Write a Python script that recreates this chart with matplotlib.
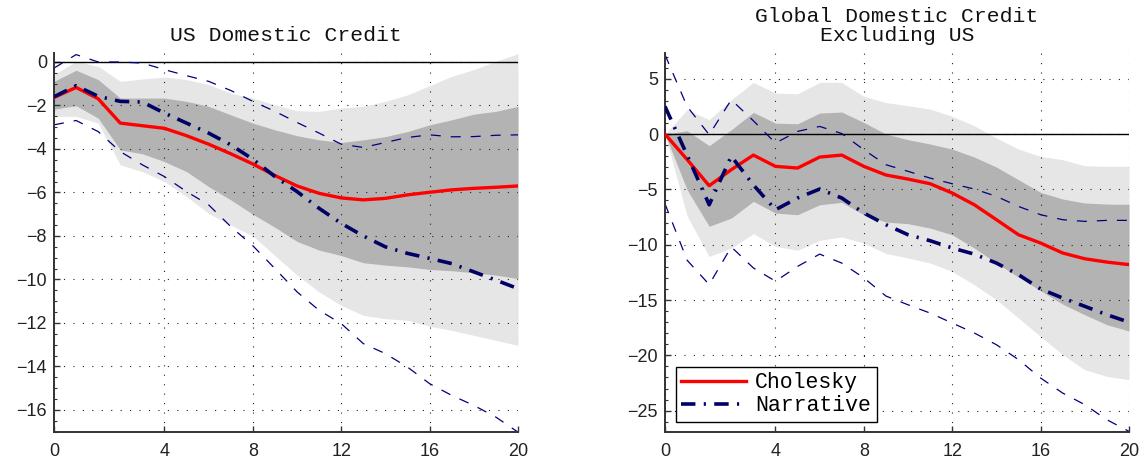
import numpy as np
import matplotlib
matplotlib.use("Agg")
import matplotlib.pyplot as plt
from matplotlib.ticker import FixedLocator, MultipleLocator

# ---------------- data ----------------
horizon = np.arange(22)
xtick_pos = [0, 5, 9, 13, 17, 21]
xtick_labels = ["0", "4", "8", "12", "16", "20"]

# US Domestic Credit
us_cholesky = [-1.63, -1.17, -1.69, -2.81, -2.93, -3.05, -3.39, -3.78, -4.22, -4.69, -5.22,
               -5.70, -6.04, -6.25, -6.34, -6.27, -6.11, -5.99, -5.88, -5.81, -5.76, -5.70]
us_narrative = [-1.60, -1.09, -1.58, -1.81, -1.84, -2.35, -2.81, -3.27, -3.81, -4.47, -5.27,
                -5.96, -6.73, -7.42, -8.00, -8.50, -8.80, -9.03, -9.27, -9.65, -10.03, -10.42]
us_narr_upper = [-0.28, 0.34, 0.00, 0.00, -0.05, -0.35, -0.63, -0.89, -1.31, -1.81, -2.27,
                 -2.78, -3.27, -3.78, -3.93, -3.70, -3.47, -3.35, -3.44, -3.43, -3.37, -3.35]
us_narr_lower = [-2.89, -2.69, -3.20, -4.12, -4.73, -5.27, -5.96, -6.57, -7.57, -8.45, -9.50,
                 -10.57, -11.42, -12.03, -12.95, -13.41, -14.03, -14.79, -15.33, -15.79, -16.33, -17.02]
us_dark_upper = [-0.89, -0.38, -0.81, -1.66, -1.66, -1.66, -1.81, -2.04, -2.43, -2.81, -3.12,
                 -3.39, -3.58, -3.70, -3.58, -3.43, -3.20, -2.89, -2.66, -2.40, -2.27, -2.04]
us_dark_lower = [-2.17, -2.01, -2.58, -4.04, -4.22, -4.58, -5.04, -5.73, -6.34, -7.00, -7.60,
                 -8.25, -8.65, -8.90, -9.23, -9.34, -9.42, -9.54, -9.60, -9.69, -9.80, -9.96]
us_light_upper = [-0.58, 0.03, -0.20, -0.89, -0.78, -0.69, -0.81, -1.04, -1.43, -1.66, -1.97,
                  -2.24, -2.27, -2.12, -2.04, -1.81, -1.51, -1.09, -0.66, -0.35, 0.03, 0.38]
us_light_lower = [-2.50, -2.50, -2.81, -4.73, -5.04, -5.50, -6.19, -6.96, -7.50, -8.00, -8.90,
                  -9.80, -10.57, -11.19, -11.65, -11.80, -11.88, -12.15, -12.34, -12.57, -12.80, -13.03]

# Global Domestic Credit Excluding US
gl_cholesky = [0.00, -2.30, -4.67, -3.22, -1.90, -2.92, -3.07, -2.08, -1.90, -2.92, -3.70,
               -4.07, -4.49, -5.33, -6.39, -7.74, -9.10, -9.85, -10.75, -11.27, -11.57, -11.80]
gl_narrative = [2.50, -1.90, -6.39, -2.00, -4.60, -6.84, -5.78, -4.97, -5.78, -7.14, -8.19,
                -9.10, -9.64, -10.30, -10.85, -11.66, -12.71, -14.00, -14.82, -15.57, -16.33, -17.00]
gl_narr_upper = [7.17, 2.50, -0.06, 3.10, 1.20, -0.81, 0.24, 0.69, 0.05, -1.42, -2.77,
                 -3.37, -3.98, -4.49, -4.97, -5.63, -6.54, -7.29, -7.74, -7.89, -7.80, -7.80]
gl_narr_lower = [-6.30, -11.40, -13.60, -10.20, -12.10, -13.30, -11.96, -10.85, -11.66, -13.00, -14.64,
                 -15.43, -16.18, -17.08, -17.98, -19.04, -20.39, -22.05, -23.41, -24.46, -25.82, -26.87]
gl_dark_upper = [0.00, 0.30, -1.05, 0.39, 1.96, 0.99, 0.93, 1.90, 1.99, 1.05, 0.00,
                 -0.51, -0.90, -1.36, -2.08, -2.98, -4.13, -5.27, -5.87, -6.23, -6.33, -6.35]
gl_dark_lower = [0.00, -5.03, -8.34, -7.59, -6.08, -7.14, -7.29, -6.39, -6.17, -7.29, -7.95,
                 -8.10, -8.50, -9.10, -10.30, -11.66, -12.93, -14.16, -15.37, -16.33, -17.23, -17.80]
gl_light_upper = [0.00, 2.20, 1.30, 3.10, 4.67, 3.70, 3.64, 4.67, 4.67, 3.40, 2.85,
                  2.56, 2.26, 1.60, 0.75, -0.36, -1.36, -2.02, -2.32, -2.86, -2.92, -2.92]
gl_light_lower = [0.00, -7.40, -11.06, -10.30, -9.00, -10.15, -10.50, -9.60, -9.30, -9.85, -10.80,
                  -11.20, -11.66, -12.41, -13.62, -14.97, -16.63, -18.29, -19.94, -21.30, -21.90, -22.20]

# ---------------- style ----------------
RED = "#ff0000"
NAVY = "#000066"
NAVY_THIN = "#000080"
LIGHT = "#e6e6e6"
DARK = "#b3b3b3"
MONO = "Liberation Mono"
SANS = "Liberation Sans"

W, H = 1147, 458
fig = plt.figure(figsize=(W / 100, H / 100), dpi=100)

ax_top = 53.3
ax_bot = 431.7
ax_w = 464
axL = fig.add_axes([54 / W, (H - ax_bot) / H, ax_w / W, (ax_bot - ax_top) / H])
axR = fig.add_axes([665 / W, (H - ax_bot) / H, ax_w / W, (ax_bot - ax_top) / H])


def draw_panel(ax, chol, narr, nup, nlo, dup, dlo, lup, llo, ylim, ymajor, yminor, title):
    ax.fill_between(horizon, llo, lup, color=LIGHT, lw=0, zorder=1)
    ax.fill_between(horizon, dlo, dup, color=DARK, lw=0, zorder=1.1)
    ax.axhline(0, color="black", lw=1.0, zorder=1.6)
    ax.plot(horizon, nup, color=NAVY_THIN, lw=0.9, ls=(0, (8, 8)), zorder=2)
    ax.plot(horizon, nlo, color=NAVY_THIN, lw=0.9, ls=(0, (8, 8)), zorder=2)
    ax.plot(horizon, chol, color=RED, lw=2.4, zorder=3, label="Cholesky")
    ax.plot(horizon, narr, color=NAVY, lw=2.6, ls=(0, (4, 2.3, 0.6, 2.3)), zorder=3,
            label="Narrative")

    ax.set_xlim(0, 21)
    ax.set_ylim(*ylim)
    ax.xaxis.set_major_locator(FixedLocator(xtick_pos))
    ax.set_xticklabels(xtick_labels)
    ax.yaxis.set_major_locator(MultipleLocator(ymajor))
    ax.yaxis.set_minor_locator(MultipleLocator(yminor))

    ax.set_axisbelow("line")
    ax.grid(True, which="major", color="#222222", lw=0.8, ls=(0, (1, 7.5)))

    for s in ("top", "right"):
        ax.spines[s].set_visible(False)
    for s in ("left", "bottom"):
        ax.spines[s].set_color("#333333")
        ax.spines[s].set_linewidth(1.4)

    ax.tick_params(axis="both", which="major", direction="in", length=4, width=1,
                   color="#333333", labelsize=13, pad=5)
    ax.tick_params(axis="x", which="major", pad=8)
    ax.tick_params(axis="y", which="minor", direction="in", length=2.5, width=0.8,
                   color="#333333")
    for lab in ax.get_xticklabels() + ax.get_yticklabels():
        lab.set_fontfamily(SANS)
        lab.set_color("#222222")

    ax.set_title(title, fontfamily=MONO, fontsize=15.4, pad=8.5, linespacing=1.05,
                 color="#111111")


draw_panel(axL, us_cholesky, us_narrative, us_narr_upper, us_narr_lower,
           us_dark_upper, us_dark_lower, us_light_upper, us_light_lower,
           (-17.0, 0.4), 2, 0.5, "US Domestic Credit")
draw_panel(axR, gl_cholesky, gl_narrative, gl_narr_upper, gl_narr_lower,
           gl_dark_upper, gl_dark_lower, gl_light_upper, gl_light_lower,
           (-26.9, 7.3), 5, 1, "Global Domestic Credit\nExcluding US")

leg = axR.legend(loc="lower left", bbox_to_anchor=(0.023, 0.026), borderaxespad=0,
                 prop={"family": MONO, "size": 15.5}, frameon=True, fancybox=False,
                 handlelength=3.0, handletextpad=0.45, labelspacing=0.1,
                 borderpad=0.25)
leg.get_frame().set_edgecolor("black")
leg.get_frame().set_linewidth(1.0)
leg.get_frame().set_alpha(1)

fig.savefig("out.png", dpi=100)
